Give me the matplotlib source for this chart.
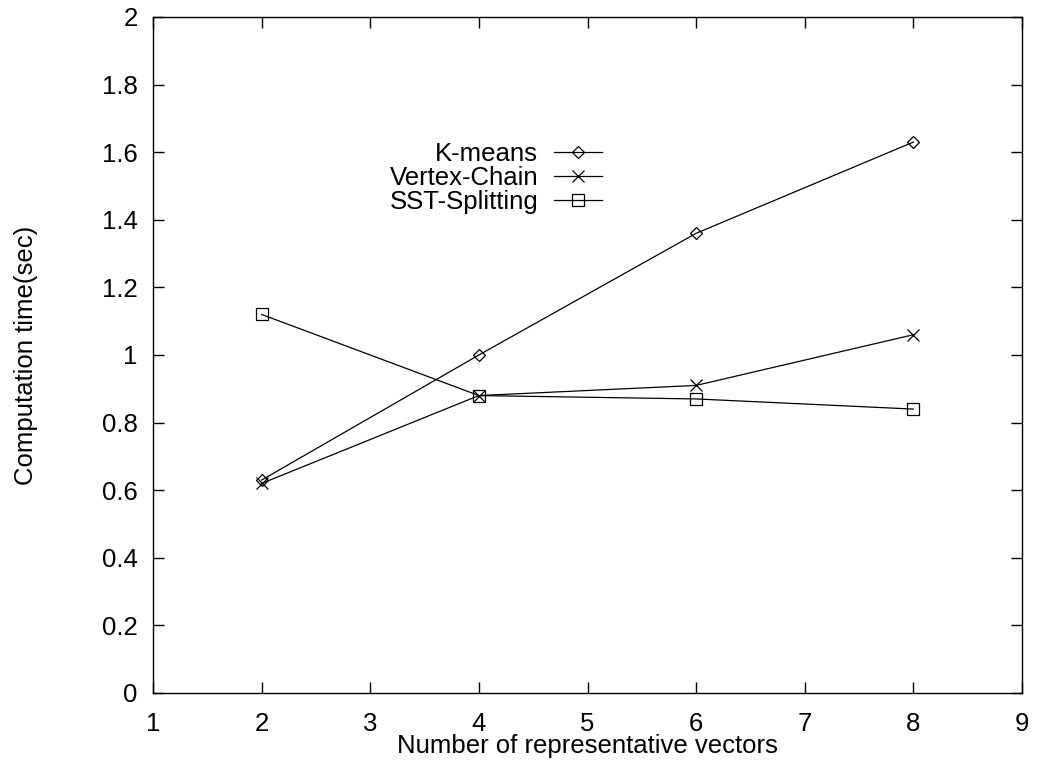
import matplotlib
matplotlib.use("Agg")
import matplotlib.pyplot as plt

plt.rcParams['font.family'] = ['Liberation Sans', 'DejaVu Sans']

x_vals = [2, 4, 6, 8]
kmeans = [0.63, 1.00, 1.36, 1.63]
vertex_chain = [0.62, 0.88, 0.91, 1.06]
sst_splitting = [1.12, 0.88, 0.87, 0.84]
x_ticks = [1, 2, 3, 4, 5, 6, 7, 8, 9]
y_ticks = [0, 0.2, 0.4, 0.6, 0.8, 1, 1.2, 1.4, 1.6, 1.8, 2]
y_ticklabels = ['0', '0.2', '0.4', '0.6', '0.8', '1', '1.2', '1.4', '1.6', '1.8', '2']

fs = 18.5

fig = plt.figure(figsize=(10.45, 7.68), dpi=100)
ax = fig.add_axes([153/1045, 75/768, 869/1045, 676/768])

lw = 0.9
ms = 8.5
ax.plot(x_vals, kmeans, color='black', lw=lw, marker='D', ms=ms*0.75,
        mfc='none', mec='black', mew=lw, label='K-means')
ax.plot(x_vals, vertex_chain, color='black', lw=lw, marker='x', ms=ms,
        mec='black', mew=lw, label='Vertex-Chain')
ax.plot(x_vals, sst_splitting, color='black', lw=lw, marker='s', ms=ms,
        mfc='none', mec='black', mew=lw, label='SST-Splitting')

ax.set_xlim(1, 9)
ax.set_ylim(0, 2)
ax.set_xticks(x_ticks)
ax.set_xticklabels([str(v) for v in x_ticks])
ax.set_yticks(y_ticks)
ax.set_yticklabels(y_ticklabels)
ax.tick_params(direction='in', length=8, width=1, top=True, right=True,
               labelsize=fs, colors='black')
ax.tick_params(axis='x', pad=14)
ax.tick_params(axis='y', pad=11)
for s in ax.spines.values():
    s.set_linewidth(1.0)

ax.set_xlabel('Number of representative vectors', fontsize=fs, labelpad=-1.5)
ax.set_ylabel('Computation time(sec)', fontsize=fs, labelpad=46)

leg = ax.legend(loc='upper right', bbox_to_anchor=(0.517, 0.815),
                markerfirst=False, frameon=False, fontsize=fs,
                handlelength=1.87, handletextpad=0.62, labelspacing=0.0,
                borderpad=0, borderaxespad=0)

fig.savefig('out.png', dpi=100)
